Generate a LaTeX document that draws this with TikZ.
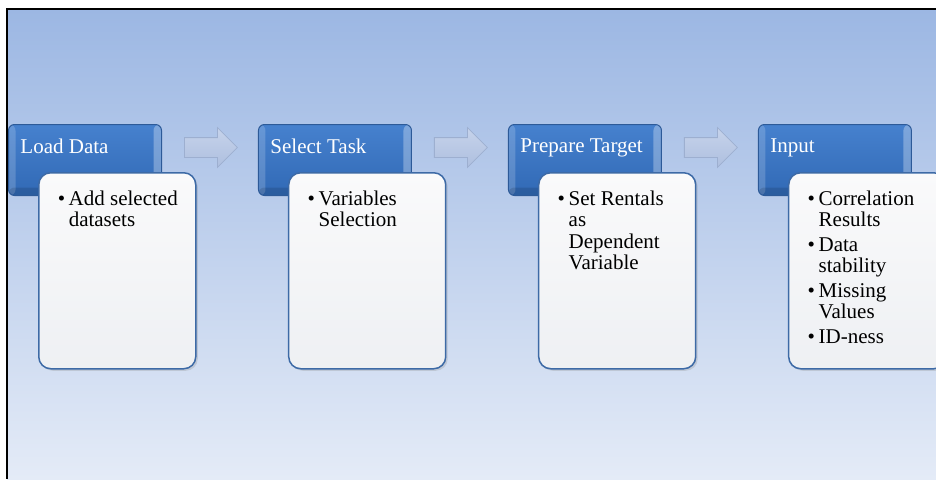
\documentclass[tikz,border=0pt]{standalone}
\usepackage{fontspec}
\setmainfont{Liberation Serif}
\usetikzlibrary{positioning, shapes.arrows, shadows}
\definecolor{bgtop}{HTML}{9CB7E3}
\definecolor{bgbot}{HTML}{E4EBF7}
\definecolor{hdrtop}{HTML}{4681CE}
\definecolor{hdrbot}{HTML}{3169B5}
\definecolor{hdrline}{HTML}{2D5A98}
\definecolor{bodyline}{HTML}{3D6AA6}
\definecolor{bodytop}{HTML}{FAFAFB}
\definecolor{bodybot}{HTML}{EEF0F3}
\definecolor{arrowtop}{HTML}{C6D3EB}
\definecolor{arrowbot}{HTML}{AEBFDF}
\definecolor{arrowline}{HTML}{9DAFD0}

% one bullet point inside a step box
\newcommand{\bulitem}[1]{\par\hangindent=11pt\hangafter=1\noindent\makebox[11pt][l]{\textbullet}#1}
% text areas of the two box kinds
\newcommand{\hdrlabel}[1]{\parbox[c][71pt][t]{153pt}{\vspace*{14pt}\hspace*{12pt}#1}}
\newcommand{\bodylist}[1]{\parbox[c][196pt][t]{157pt}{\setlength{\leftskip}{19pt}\setlength{\parskip}{3pt}\vspace*{15pt}#1}}

\begin{document}
\begin{tikzpicture}[
        x=1pt, y=-1pt,
        header/.style={rectangle, rounded corners=6pt, draw=hdrline, line width=1pt, top color=hdrtop, bottom color=hdrbot,
            anchor=north west, inner sep=0pt, text=white, font=\fontsize{21}{22}\selectfont,
            path picture={
                \fill[white, opacity=0.18] (path picture bounding box.north west) rectangle ([shift={(7pt,0pt)}]path picture bounding box.south west);
                \fill[white, opacity=0.3] ([shift={(-8pt,0pt)}]path picture bounding box.north east) rectangle (path picture bounding box.south east);
                \fill[black, opacity=0.12] ([shift={(0pt,8pt)}]path picture bounding box.south west) rectangle (path picture bounding box.south east);}},
        body/.style={rectangle, rounded corners=12pt, draw=bodyline, line width=1.5pt, top color=bodytop, bottom color=bodybot,
            anchor=north west, inner sep=0pt, font=\fontsize{21}{21.5}\selectfont,
            drop shadow={opacity=0.25, shadow xshift=2pt, shadow yshift=-2pt}},
        flow/.style={single arrow, draw=arrowline, top color=arrowtop, bottom color=arrowbot, line width=0.8pt, inner xsep=0pt, inner ysep=9.5pt,
            minimum height=53pt, single arrow head extend=10pt}
    ]
        \clip (0,0) rectangle (936,479);

        % Background panel
        \fill[top color=bgtop, bottom color=bgbot] (7,9) rectangle (936,479);
        \draw[line width=1.2pt] (936,9) -- (7,9) -- (7,479);

        % Steps
        \node[header] (load) at (8,124) {\hdrlabel{Load Data}};
        \node[flow, right=22pt of load, yshift=12.5pt] (a1) {};
        \node[header, anchor=west, right=20pt of a1, yshift=-12.5pt] (select) {\hdrlabel{Select Task}};
        \node[flow, right=22pt of select, yshift=12.5pt] (a2) {};
        \node[header, anchor=west, right=20pt of a2, yshift=-12.5pt] (target) {\hdrlabel{Prepare Target}};
        \node[flow, right=22pt of target, yshift=12.5pt] (a3) {};
        \node[header, anchor=west, right=20pt of a3, yshift=-12.5pt] (input) {\hdrlabel{Input}};

        % Details
        \node[body] (loadbody) at ([shift={(30pt,-48pt)}]load.north west)
            {\bodylist{\bulitem{Add selected\newline datasets}}};
        \node[body] (selectbody) at ([shift={(30pt,-48pt)}]select.north west)
            {\bodylist{\bulitem{Variables\newline Selection}}};
        \node[body] (targetbody) at ([shift={(30pt,-48pt)}]target.north west)
            {\bodylist{\bulitem{Set Rentals\newline as\newline Dependent\newline Variable}}};
        \node[body] (inputbody) at ([shift={(30pt,-48pt)}]input.north west)
            {\bodylist{\bulitem{Correlation\newline Results}\bulitem{Data\newline stability}\bulitem{Missing\newline Values}\bulitem{ID-ness}}};
    \end{tikzpicture}
\end{document}
